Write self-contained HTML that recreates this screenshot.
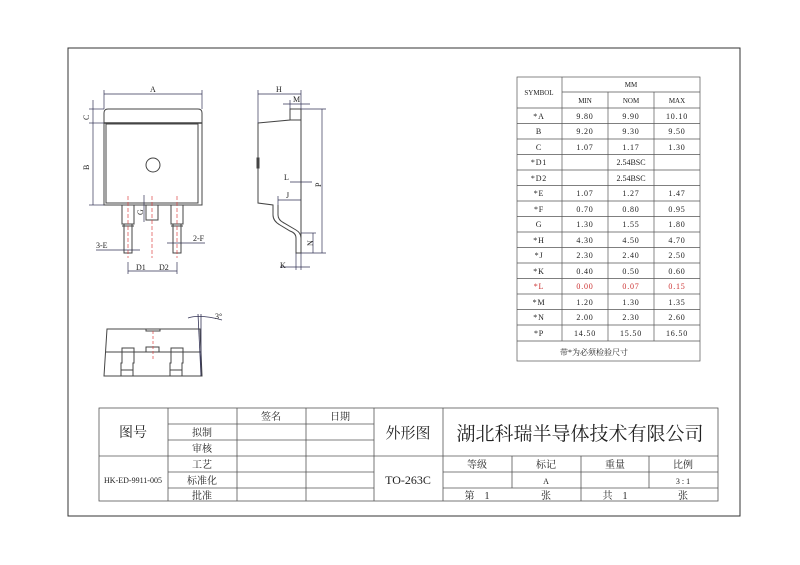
<!DOCTYPE html>
<html><head><meta charset="utf-8"><style>
html,body{margin:0;padding:0;background:#fff;}
svg{display:block;}
text{font-family:"Liberation Serif","Noto Serif CJK SC",serif;fill:#222;}
text.red{fill:#c33;}
</style></head><body>
<svg width="800" height="565" viewBox="0 0 800 565" xmlns="http://www.w3.org/2000/svg">
<rect x="68" y="48" width="672" height="468" fill="none" stroke="#333" stroke-width="1"/>

<!-- FRONT VIEW -->
<g stroke="#444" fill="none" stroke-width="1">
<path d="M104,205 L104,113 Q104,109 108,109 L198,109 Q202,109 202,113 L202,205 Z"/>
<line x1="104" y1="123" x2="202" y2="123" stroke-width="1.5"/>
<rect x="106" y="124" width="92" height="79"/>
<circle cx="153" cy="165" r="7"/>
<path d="M122,205 L122,224 L124,224 L124,253 L132,253 L132,224 L134,224 L134,205"/>
<line x1="122" y1="224" x2="134" y2="224"/><line x1="122" y1="226" x2="134" y2="226"/>
<path d="M171,205 L171,224 L173,224 L173,253 L181,253 L181,224 L183,224 L183,205"/>
<line x1="171" y1="224" x2="183" y2="224"/><line x1="171" y1="226" x2="183" y2="226"/>
<rect x="146" y="205" width="12" height="15"/>
</g>
<g stroke="#d44" stroke-width="0.7" stroke-dasharray="4,2">
<line x1="128" y1="196" x2="128" y2="258"/><line x1="152" y1="196" x2="152" y2="258"/><line x1="177" y1="196" x2="177" y2="258"/>
</g>
<g stroke="#335" stroke-width="0.7" fill="none">
<line x1="104" y1="94" x2="202" y2="94"/><line x1="104" y1="90" x2="104" y2="109"/><line x1="202" y1="90" x2="202" y2="109"/>
<line x1="93" y1="100" x2="93" y2="205"/><line x1="89" y1="109" x2="104" y2="109"/><line x1="89" y1="123" x2="104" y2="123"/><line x1="89" y1="205" x2="104" y2="205"/>
<line x1="128" y1="262" x2="128" y2="274"/><line x1="177" y1="262" x2="177" y2="274"/>
<line x1="128" y1="271" x2="177" y2="271"/>
<line x1="96" y1="250" x2="140" y2="250"/><line x1="167" y1="243" x2="205" y2="243"/>
<line x1="144" y1="195" x2="144" y2="222"/>
</g>
<g font-size="8">
<text x="150" y="92">A</text>
<text x="83" y="118" transform="rotate(-90 87 116)">C</text>
<text x="83" y="168" transform="rotate(-90 87 166)">B</text>
<text x="96" y="248">3-E</text><text x="193" y="241">2-F</text>
<text x="136" y="270">D1</text><text x="159" y="270">D2</text>
<text x="139" y="215" transform="rotate(-90 141 213)">G</text>
</g>

<!-- SIDE VIEW -->
<g stroke="#444" fill="none" stroke-width="1">
<path d="M258,123 L290,120 L290,109 L301,109 L301,253 L296,253 L296,238 Q296,233 290,231 L280,225 Q273,221 273,215 L273,205 L258,203 Z"/>
<line x1="278" y1="205" x2="278" y2="215"/>
<path d="M278,215 Q278,220 284,223 L296,230 Q301,233 301,238"/>
<line x1="290" y1="120" x2="301" y2="120"/>
<rect x="257" y="158" width="2" height="10"/>
</g>
<g stroke="#335" stroke-width="0.7" fill="none">
<line x1="258" y1="94" x2="301" y2="94"/><line x1="258" y1="90" x2="258" y2="123"/><line x1="301" y1="90" x2="301" y2="109"/>
<line x1="283" y1="104" x2="310" y2="104"/><line x1="290" y1="100" x2="290" y2="109"/>
<line x1="301" y1="109" x2="326" y2="109"/><line x1="301" y1="253" x2="326" y2="253"/>
<line x1="322" y1="109" x2="322" y2="253"/>
<line x1="278" y1="200" x2="301" y2="200"/><line x1="278" y1="196" x2="278" y2="205"/>
<line x1="290" y1="182" x2="312" y2="182"/>
<line x1="301" y1="233" x2="316" y2="233"/><line x1="313" y1="233" x2="313" y2="253"/>
<line x1="280" y1="267" x2="310" y2="267"/><line x1="296" y1="253" x2="296" y2="270"/><line x1="301" y1="253" x2="301" y2="270"/>
</g>
<g font-size="8">
<text x="276" y="92">H</text><text x="293" y="102">M</text>
<text x="284" y="180">L</text><text x="286" y="198">J</text>
<text x="316" y="186" transform="rotate(-90 319 184)">P</text>
<text x="307" y="246" transform="rotate(-90 310 243)">N</text>
<text x="280" y="268">K</text>
</g>

<!-- BOTTOM VIEW -->
<g stroke="#444" fill="none" stroke-width="1">
<path d="M107,329 L200,329 L202,376 L104,376 Z"/>
<line x1="106" y1="352" x2="201" y2="352"/>
<path d="M121,376 L121,363 L122,363 L122,348 L134,348 L134,363 L133,363 L133,376"/><line x1="121" y1="370" x2="133" y2="370"/>
<path d="M170,376 L170,363 L171,363 L171,348 L183,348 L183,363 L182,363 L182,376"/><line x1="170" y1="370" x2="182" y2="370"/>
<rect x="146" y="347" width="13" height="5"/>
<rect x="146" y="329" width="14" height="2"/>
</g>
<line x1="153" y1="331" x2="153" y2="359" stroke="#d44" stroke-width="0.7" stroke-dasharray="3,2"/>
<g stroke="#335" stroke-width="0.8" fill="none">
<line x1="201" y1="314" x2="201" y2="376"/><line x1="198" y1="314" x2="201" y2="376"/>
<path d="M188,318 Q200,314 222,320"/>
</g>
<text x="215" y="319" font-size="8">3°</text>

<!-- DIMENSION TABLE -->
<g stroke="#555" stroke-width="0.7" fill="none">
<rect x="517" y="77" width="183" height="284"/>
<line x1="562" y1="77" x2="562" y2="341"/>
<line x1="562" y1="92" x2="700" y2="92"/>
<line x1="608" y1="92" x2="608" y2="341"/><line x1="654" y1="92" x2="654" y2="341"/>
<line x1="517" y1="108" x2="700" y2="108"/>
<line x1="517" y1="123.5" x2="700" y2="123.5"/><line x1="517" y1="139" x2="700" y2="139"/><line x1="517" y1="154.5" x2="700" y2="154.5"/>
<line x1="517" y1="170" x2="700" y2="170"/><line x1="517" y1="185.5" x2="700" y2="185.5"/><line x1="517" y1="201" x2="700" y2="201"/>
<line x1="517" y1="216.5" x2="700" y2="216.5"/><line x1="517" y1="232" x2="700" y2="232"/><line x1="517" y1="247.5" x2="700" y2="247.5"/>
<line x1="517" y1="263" x2="700" y2="263"/><line x1="517" y1="278.5" x2="700" y2="278.5"/><line x1="517" y1="294" x2="700" y2="294"/>
<line x1="517" y1="309.5" x2="700" y2="309.5"/><line x1="517" y1="325" x2="700" y2="325"/><line x1="517" y1="341" x2="700" y2="341"/>
</g>
<g font-size="7" text-anchor="middle">
<text x="539" y="95">SYMBOL</text><text x="631" y="87">MM</text>
<text x="585" y="103">MIN</text><text x="631" y="103">NOM</text><text x="677" y="103">MAX</text>
</g>
<g font-size="8" text-anchor="middle" letter-spacing="0.8">
<text x="539" y="119">*A</text><text x="585" y="119">9.80</text><text x="631" y="119">9.90</text><text x="677" y="119">10.10</text>
<text x="539" y="134">B</text><text x="585" y="134">9.20</text><text x="631" y="134">9.30</text><text x="677" y="134">9.50</text>
<text x="539" y="150">C</text><text x="585" y="150">1.07</text><text x="631" y="150">1.17</text><text x="677" y="150">1.30</text>
<text x="539" y="165">*D1</text><text x="631" y="165" letter-spacing="0">2.54BSC</text>
<text x="539" y="181">*D2</text><text x="631" y="181" letter-spacing="0">2.54BSC</text>
<text x="539" y="196">*E</text><text x="585" y="196">1.07</text><text x="631" y="196">1.27</text><text x="677" y="196">1.47</text>
<text x="539" y="212">*F</text><text x="585" y="212">0.70</text><text x="631" y="212">0.80</text><text x="677" y="212">0.95</text>
<text x="539" y="227">G</text><text x="585" y="227">1.30</text><text x="631" y="227">1.55</text><text x="677" y="227">1.80</text>
<text x="539" y="243">*H</text><text x="585" y="243">4.30</text><text x="631" y="243">4.50</text><text x="677" y="243">4.70</text>
<text x="539" y="258">*J</text><text x="585" y="258">2.30</text><text x="631" y="258">2.40</text><text x="677" y="258">2.50</text>
<text x="539" y="274">*K</text><text x="585" y="274">0.40</text><text x="631" y="274">0.50</text><text x="677" y="274">0.60</text>
<text class="red" x="539" y="289">*L</text><text class="red" x="585" y="289">0.00</text><text class="red" x="631" y="289">0.07</text><text class="red" x="677" y="289">0.15</text>
<text x="539" y="305">*M</text><text x="585" y="305">1.20</text><text x="631" y="305">1.30</text><text x="677" y="305">1.35</text>
<text x="539" y="320">*N</text><text x="585" y="320">2.00</text><text x="631" y="320">2.30</text><text x="677" y="320">2.60</text>
<text x="539" y="336">*P</text><text x="585" y="336">14.50</text><text x="631" y="336">15.50</text><text x="677" y="336">16.50</text>
<text x="594" y="355" letter-spacing="0">带*为必须检验尺寸</text>
</g>

<!-- TITLE BLOCK -->
<g stroke="#555" stroke-width="0.8" fill="none">
<rect x="99" y="408" width="619" height="93"/>
<line x1="168" y1="408" x2="168" y2="501"/><line x1="237" y1="408" x2="237" y2="501"/>
<line x1="306" y1="408" x2="306" y2="501"/><line x1="374" y1="408" x2="374" y2="501"/>
<line x1="443" y1="408" x2="443" y2="501"/>
<line x1="168" y1="424" x2="374" y2="424"/><line x1="168" y1="440" x2="374" y2="440"/>
<line x1="99" y1="456" x2="718" y2="456"/>
<line x1="168" y1="472" x2="374" y2="472"/><line x1="168" y1="488" x2="374" y2="488"/>
<line x1="443" y1="472" x2="718" y2="472"/><line x1="443" y1="488" x2="718" y2="488"/>
<line x1="512" y1="456" x2="512" y2="488"/><line x1="581" y1="456" x2="581" y2="501"/><line x1="649" y1="456" x2="649" y2="488"/>
</g>
<g text-anchor="middle" font-size="10">
<text x="271" y="420">签名</text><text x="340" y="420">日期</text>
<text x="202" y="436">拟制</text><text x="202" y="452">审核</text>
<text x="202" y="468">工艺</text><text x="202" y="484">标准化</text><text x="202" y="499">批准</text>
<text x="477" y="468">等级</text><text x="546" y="468">标记</text><text x="615" y="468">重量</text><text x="683" y="468">比例</text>
<text x="546" y="484" font-size="8">A</text><text x="683" y="484" font-size="8">3 : 1</text>
<text x="477" y="499">第&#160;&#160;&#160;&#160;1</text><text x="546" y="499">张</text>
<text x="615" y="499">共&#160;&#160;&#160;&#160;1</text><text x="683" y="499">张</text>
</g>
<text x="133" y="437" font-size="14" text-anchor="middle">图号</text>
<text x="133" y="483" font-size="8" text-anchor="middle">HK-ED-9911-005</text>
<text x="408" y="438" font-size="15" text-anchor="middle">外形图</text>
<text x="408" y="484" font-size="12" text-anchor="middle">TO-263C</text>
<text x="580" y="440" font-size="19" text-anchor="middle">湖北科瑞半导体技术有限公司</text>
</svg>
</body></html>
